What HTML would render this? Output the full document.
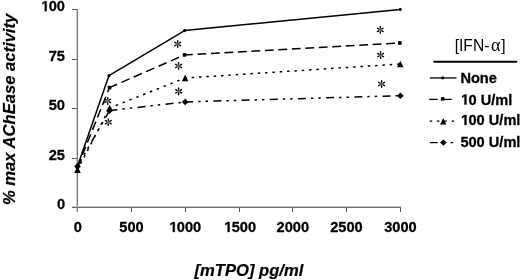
<!DOCTYPE html>
<html><head><meta charset="utf-8">
<style>
html,body{margin:0;padding:0;background:#fff;width:520px;height:280px;overflow:hidden;}
svg{display:block;will-change:transform;}
text{font-family:"Liberation Sans",sans-serif;fill:#000;}
.tk{font-weight:bold;font-size:14.6px;stroke:#000;stroke-width:0.3px;}
.ti{font-weight:bold;font-style:italic;font-size:16.6px;stroke:#000;stroke-width:0.2px;}
.lg{font-weight:bold;font-size:14.6px;stroke:#000;stroke-width:0.3px;}
</style></head>
<body>
<svg width="520" height="280" viewBox="0 0 520 280">

<g shape-rendering="crispEdges">
<rect x="76" y="10" width="1" height="201" fill="#cfcfcf"/>
<rect x="77" y="9" width="1" height="203" fill="#777"/>
<rect x="72" y="206" width="329" height="1" fill="#c4c4c4"/>
<rect x="72" y="207" width="329" height="1" fill="#6e6e6e"/>
<rect x="72" y="9" width="5" height="1" fill="#5a5a5a"/>
<rect x="72" y="59" width="5" height="1" fill="#5a5a5a"/>
<rect x="72" y="108" width="5" height="1" fill="#5a5a5a"/>
<rect x="72" y="158" width="5" height="1" fill="#5a5a5a"/>
<rect x="131" y="208" width="1" height="4" fill="#555"/>
<rect x="185" y="208" width="1" height="4" fill="#555"/>
<rect x="239" y="208" width="1" height="4" fill="#555"/>
<rect x="292" y="208" width="1" height="4" fill="#555"/>
<rect x="346" y="208" width="1" height="4" fill="#555"/>
<rect x="400" y="208" width="1" height="4" fill="#555"/>
</g>
<text class="tk" x="40.64" y="11.2"> 00</text>
<text class="tk" x="48.76" y="61.1">75</text>
<text class="tk" x="48.76" y="110">50</text>
<text class="tk" x="48.76" y="159.7">25</text>
<text class="tk" x="56.88" y="208.9">0</text>
<text class="tk" x="73.74" y="232">0</text>
<text class="tk" x="119.32" y="232">500</text>
<text class="tk" x="168.76" y="232"> 000</text>
<text class="tk" x="223.56" y="232"> 500</text>
<text class="tk" x="276.56" y="232">2000</text>
<text class="tk" x="330.26" y="232">2500</text>
<text class="tk" x="384.26" y="232">3000</text>
<text class="ti" x="194.5" y="276">[mTPO] pg/ml</text>
<text class="ti" transform="translate(15.3,205) rotate(-90)" x="0" y="0">% max AChEase activity</text>
<g fill="none" stroke="#000" stroke-width="1.5">
<line x1="77.5" y1="166.2" x2="109.0" y2="75.6"/>
<line x1="109.0" y1="75.6" x2="184.6" y2="30.6"/>
<line x1="184.6" y1="30.6" x2="400.2" y2="9.4"/>
<line x1="77.5" y1="167.0" x2="109.5" y2="87.6" stroke-dasharray="8.8 4.7" stroke-dashoffset="0.5"/>
<line x1="109.5" y1="87.6" x2="184.5" y2="54.9" stroke-dasharray="8.8 4.7" stroke-dashoffset="0.5"/>
<line x1="184.5" y1="54.9" x2="399.8" y2="43" stroke-dasharray="8.8 4.7" stroke-dashoffset="0.5"/>
<line x1="77.5" y1="169.7" x2="109.6" y2="108.0" stroke-dasharray="2.5 4.85" stroke-dashoffset="0.75"/>
<line x1="109.6" y1="108.0" x2="185.1" y2="78" stroke-dasharray="2.5 4.85" stroke-dashoffset="0.75"/>
<line x1="185.1" y1="78" x2="400.3" y2="64" stroke-dasharray="2.5 4.85" stroke-dashoffset="0.75"/>
<line x1="77.5" y1="166.3" x2="109.5" y2="110.6" stroke-dasharray="8 5 2.4 5 2.4 5.4" stroke-dashoffset="0"/>
<line x1="109.5" y1="110.6" x2="185.2" y2="101.9" stroke-dasharray="8 5 2.4 5 2.4 5.4" stroke-dashoffset="0"/>
<line x1="185.2" y1="101.9" x2="400.4" y2="95.7" stroke-dasharray="8 5 2.4 5 2.4 5.4" stroke-dashoffset="0"/>
</g>
<g fill="#000">
<circle cx="77.50" cy="166.20" r="1.60"/>
<circle cx="109.00" cy="75.60" r="1.60"/>
<circle cx="184.60" cy="30.60" r="1.60"/>
<circle cx="400.20" cy="9.40" r="1.60"/>
<rect x="75.70" y="165.20" width="3.60" height="3.60"/>
<rect x="107.70" y="85.80" width="3.60" height="3.60"/>
<rect x="182.70" y="53.10" width="3.60" height="3.60"/>
<rect x="398.00" y="41.20" width="3.60" height="3.60"/>
<polygon points="77.50,166.50 80.80,172.90 74.20,172.90"/>
<polygon points="109.60,104.80 112.90,111.20 106.30,111.20"/>
<polygon points="185.10,74.80 188.40,81.20 181.80,81.20"/>
<polygon points="400.30,60.80 403.60,67.20 397.00,67.20"/>
<polygon points="77.50,163.00 80.80,166.30 77.50,169.60 74.20,166.30"/>
<polygon points="109.50,107.30 112.80,110.60 109.50,113.90 106.20,110.60"/>
<polygon points="185.20,98.60 188.50,101.90 185.20,105.20 181.90,101.90"/>
<polygon points="400.40,92.40 403.70,95.70 400.40,99.00 397.10,95.70"/>
</g>
<g transform="translate(177.7,44)"><g stroke="#555" stroke-width="0.9"><line x1="-0.00" y1="-2.00" x2="0.00" y2="2.00"/><line x1="-1.73" y1="-1.00" x2="1.73" y2="1.00"/><line x1="-1.73" y1="1.00" x2="1.73" y2="-1.00"/></g><g stroke="#000" stroke-width="1.4" stroke-linecap="round"><line x1="0.00" y1="2.00" x2="0.00" y2="3.30"/><line x1="-1.73" y1="1.00" x2="-2.86" y2="1.65"/><line x1="-1.73" y1="-1.00" x2="-2.86" y2="-1.65"/><line x1="-0.00" y1="-2.00" x2="-0.00" y2="-3.30"/><line x1="1.73" y1="-1.00" x2="2.86" y2="-1.65"/><line x1="1.73" y1="1.00" x2="2.86" y2="1.65"/></g></g>
<g transform="translate(178.6,66)"><g stroke="#555" stroke-width="0.9"><line x1="-0.00" y1="-2.00" x2="0.00" y2="2.00"/><line x1="-1.73" y1="-1.00" x2="1.73" y2="1.00"/><line x1="-1.73" y1="1.00" x2="1.73" y2="-1.00"/></g><g stroke="#000" stroke-width="1.4" stroke-linecap="round"><line x1="0.00" y1="2.00" x2="0.00" y2="3.30"/><line x1="-1.73" y1="1.00" x2="-2.86" y2="1.65"/><line x1="-1.73" y1="-1.00" x2="-2.86" y2="-1.65"/><line x1="-0.00" y1="-2.00" x2="-0.00" y2="-3.30"/><line x1="1.73" y1="-1.00" x2="2.86" y2="-1.65"/><line x1="1.73" y1="1.00" x2="2.86" y2="1.65"/></g></g>
<g transform="translate(178.6,91.3)"><g stroke="#555" stroke-width="0.9"><line x1="-0.00" y1="-2.00" x2="0.00" y2="2.00"/><line x1="-1.73" y1="-1.00" x2="1.73" y2="1.00"/><line x1="-1.73" y1="1.00" x2="1.73" y2="-1.00"/></g><g stroke="#000" stroke-width="1.4" stroke-linecap="round"><line x1="0.00" y1="2.00" x2="0.00" y2="3.30"/><line x1="-1.73" y1="1.00" x2="-2.86" y2="1.65"/><line x1="-1.73" y1="-1.00" x2="-2.86" y2="-1.65"/><line x1="-0.00" y1="-2.00" x2="-0.00" y2="-3.30"/><line x1="1.73" y1="-1.00" x2="2.86" y2="-1.65"/><line x1="1.73" y1="1.00" x2="2.86" y2="1.65"/></g></g>
<g transform="translate(380.25,29.9)"><g stroke="#555" stroke-width="0.9"><line x1="-0.00" y1="-2.00" x2="0.00" y2="2.00"/><line x1="-1.73" y1="-1.00" x2="1.73" y2="1.00"/><line x1="-1.73" y1="1.00" x2="1.73" y2="-1.00"/></g><g stroke="#000" stroke-width="1.4" stroke-linecap="round"><line x1="0.00" y1="2.00" x2="0.00" y2="3.30"/><line x1="-1.73" y1="1.00" x2="-2.86" y2="1.65"/><line x1="-1.73" y1="-1.00" x2="-2.86" y2="-1.65"/><line x1="-0.00" y1="-2.00" x2="-0.00" y2="-3.30"/><line x1="1.73" y1="-1.00" x2="2.86" y2="-1.65"/><line x1="1.73" y1="1.00" x2="2.86" y2="1.65"/></g></g>
<g transform="translate(380.6,55.1)"><g stroke="#555" stroke-width="0.9"><line x1="-0.00" y1="-2.00" x2="0.00" y2="2.00"/><line x1="-1.73" y1="-1.00" x2="1.73" y2="1.00"/><line x1="-1.73" y1="1.00" x2="1.73" y2="-1.00"/></g><g stroke="#000" stroke-width="1.4" stroke-linecap="round"><line x1="0.00" y1="2.00" x2="0.00" y2="3.30"/><line x1="-1.73" y1="1.00" x2="-2.86" y2="1.65"/><line x1="-1.73" y1="-1.00" x2="-2.86" y2="-1.65"/><line x1="-0.00" y1="-2.00" x2="-0.00" y2="-3.30"/><line x1="1.73" y1="-1.00" x2="2.86" y2="-1.65"/><line x1="1.73" y1="1.00" x2="2.86" y2="1.65"/></g></g>
<g transform="translate(381.6,84)"><g stroke="#555" stroke-width="0.9"><line x1="-0.00" y1="-2.00" x2="0.00" y2="2.00"/><line x1="-1.73" y1="-1.00" x2="1.73" y2="1.00"/><line x1="-1.73" y1="1.00" x2="1.73" y2="-1.00"/></g><g stroke="#000" stroke-width="1.4" stroke-linecap="round"><line x1="0.00" y1="2.00" x2="0.00" y2="3.30"/><line x1="-1.73" y1="1.00" x2="-2.86" y2="1.65"/><line x1="-1.73" y1="-1.00" x2="-2.86" y2="-1.65"/><line x1="-0.00" y1="-2.00" x2="-0.00" y2="-3.30"/><line x1="1.73" y1="-1.00" x2="2.86" y2="-1.65"/><line x1="1.73" y1="1.00" x2="2.86" y2="1.65"/></g></g>
<g transform="translate(107.7,100.9)"><g stroke="#555" stroke-width="0.9"><line x1="-0.00" y1="-2.00" x2="0.00" y2="2.00"/><line x1="-1.73" y1="-1.00" x2="1.73" y2="1.00"/><line x1="-1.73" y1="1.00" x2="1.73" y2="-1.00"/></g><g stroke="#000" stroke-width="1.4" stroke-linecap="round"><line x1="0.00" y1="2.00" x2="0.00" y2="3.30"/><line x1="-1.73" y1="1.00" x2="-2.86" y2="1.65"/><line x1="-1.73" y1="-1.00" x2="-2.86" y2="-1.65"/><line x1="-0.00" y1="-2.00" x2="-0.00" y2="-3.30"/><line x1="1.73" y1="-1.00" x2="2.86" y2="-1.65"/><line x1="1.73" y1="1.00" x2="2.86" y2="1.65"/></g></g>
<g transform="translate(108.3,122.2)"><g stroke="#555" stroke-width="0.9"><line x1="-0.00" y1="-2.00" x2="0.00" y2="2.00"/><line x1="-1.73" y1="-1.00" x2="1.73" y2="1.00"/><line x1="-1.73" y1="1.00" x2="1.73" y2="-1.00"/></g><g stroke="#000" stroke-width="1.4" stroke-linecap="round"><line x1="0.00" y1="2.00" x2="0.00" y2="3.30"/><line x1="-1.73" y1="1.00" x2="-2.86" y2="1.65"/><line x1="-1.73" y1="-1.00" x2="-2.86" y2="-1.65"/><line x1="-0.00" y1="-2.00" x2="-0.00" y2="-3.30"/><line x1="1.73" y1="-1.00" x2="2.86" y2="-1.65"/><line x1="1.73" y1="1.00" x2="2.86" y2="1.65"/></g></g>
<text x="454.7" y="50.6" style="font-size:15.6px;">[IFN-</text><text x="491" y="51.2" style="font-family:'Liberation Serif',serif;font-size:18px;">α</text><text x="501.2" y="50.6" style="font-size:15.6px;">]</text>
<line x1="433.4" y1="61.7" x2="517.2" y2="61.7" stroke="#000" stroke-width="2"/>
<g fill="none" stroke="#000" stroke-width="1.3">
<line x1="429.8" y1="77.95" x2="456.5" y2="77.95"/>
<line x1="429.2" y1="99.4" x2="437.7" y2="99.4"/><line x1="440.8" y1="99.4" x2="451.7" y2="99.4"/>
<line x1="429.7" y1="121.1" x2="432.2" y2="121.1"/><line x1="436.9" y1="121.1" x2="439.4" y2="121.1"/><line x1="444.2" y1="121.1" x2="446.9" y2="121.1"/><line x1="451.6" y1="121.1" x2="454.1" y2="121.1"/>
<line x1="429.8" y1="142.6" x2="437.7" y2="142.6"/><line x1="450.5" y1="142.6" x2="453" y2="142.6"/>
</g>
<g fill="#000">
<circle cx="442.75" cy="77.85" r="1.60"/>
<rect x="440.95" y="97.15" width="3.50" height="3.50"/>
<polygon points="443.20,118.00 446.25,124.50 440.15,124.50"/>
<polygon points="443.40,139.40 446.80,142.60 443.40,145.80 440.00,142.60"/>
</g>
<text class="lg" x="460.4" y="83.4">None</text>
<text class="lg" x="460.40" y="104.6"> 0 U/ml</text>
<text class="lg" x="460.40" y="125"> 00 U/ml</text>
<text class="lg" x="460.40" y="147">500 U/ml</text>
<g transform="translate(40.64,11.20) scale(0.00713,-0.00713)"><path stroke="#000" stroke-width="42" d="M568,0 L849,0 L849,1409 L583,1409 L230,1180 L230,959 L568,1170 Z"/></g>
<g transform="translate(168.76,232.00) scale(0.00713,-0.00713)"><path stroke="#000" stroke-width="42" d="M568,0 L849,0 L849,1409 L583,1409 L230,1180 L230,959 L568,1170 Z"/></g>
<g transform="translate(223.56,232.00) scale(0.00713,-0.00713)"><path stroke="#000" stroke-width="42" d="M568,0 L849,0 L849,1409 L583,1409 L230,1180 L230,959 L568,1170 Z"/></g>
<g transform="translate(460.40,104.60) scale(0.00713,-0.00713)"><path stroke="#000" stroke-width="42" d="M568,0 L849,0 L849,1409 L583,1409 L230,1180 L230,959 L568,1170 Z"/></g>
<g transform="translate(460.40,125.00) scale(0.00713,-0.00713)"><path stroke="#000" stroke-width="42" d="M568,0 L849,0 L849,1409 L583,1409 L230,1180 L230,959 L568,1170 Z"/></g>
</svg>
</body></html>
